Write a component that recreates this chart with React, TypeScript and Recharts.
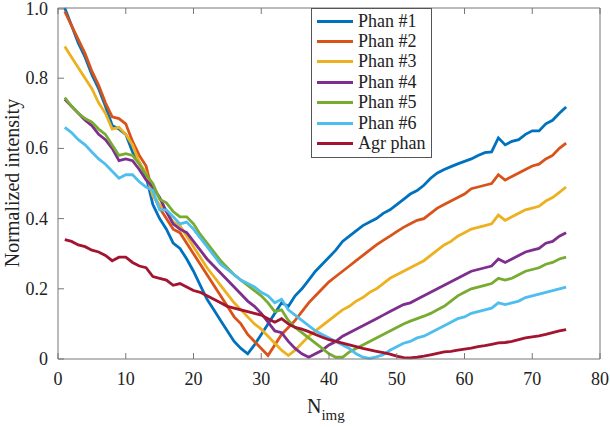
import { LineChart, Line, XAxis, YAxis, Legend } from 'recharts'

const nImg = [
  1, 2, 3, 4, 5, 6, 7, 8, 9, 10, 11, 12, 13, 14, 15, 16, 17, 18, 19, 20,
  21, 22, 23, 24, 25, 26, 27, 28, 29, 30, 31, 32, 33, 34, 35, 36, 37, 38, 39, 40,
  41, 42, 43, 44, 45, 46, 47, 48, 49, 50, 51, 52, 53, 54, 55, 56, 57, 58, 59, 60,
  61, 62, 63, 64, 65, 66, 67, 68, 69, 70, 71, 72, 73, 74, 75,
]

const phan1 = [
  1.0, 0.95, 0.9, 0.86, 0.81, 0.77, 0.72, 0.665, 0.655, 0.64, 0.59, 0.56, 0.52, 0.44, 0.4, 0.37, 0.33, 0.315, 0.285, 0.25,
  0.21, 0.17, 0.14, 0.11, 0.08, 0.05, 0.03, 0.015, 0.04, 0.07, 0.1, 0.13, 0.16, 0.15, 0.18, 0.2, 0.225, 0.25, 0.27, 0.29,
  0.31, 0.335, 0.35, 0.365, 0.38, 0.39, 0.4, 0.415, 0.425, 0.44, 0.455, 0.47, 0.48, 0.495, 0.515, 0.53, 0.54, 0.548, 0.556, 0.563,
  0.57, 0.58, 0.588, 0.59, 0.63, 0.61, 0.62, 0.625, 0.64, 0.65, 0.65, 0.67, 0.68, 0.7, 0.718,
]

const phan2 = [
  0.99, 0.95, 0.91, 0.87, 0.82, 0.78, 0.73, 0.69, 0.685, 0.67, 0.62, 0.58, 0.55, 0.47, 0.43, 0.4, 0.37, 0.36, 0.33, 0.3,
  0.27, 0.24, 0.21, 0.18, 0.15, 0.12, 0.1, 0.07, 0.05, 0.03, 0.01, 0.04, 0.07, 0.09, 0.11, 0.135, 0.16, 0.18, 0.2, 0.22,
  0.235, 0.25, 0.265, 0.28, 0.295, 0.31, 0.325, 0.338, 0.35, 0.363, 0.375, 0.385, 0.395, 0.4, 0.415, 0.43, 0.44, 0.45, 0.46, 0.47,
  0.485, 0.49, 0.495, 0.5, 0.525, 0.51, 0.52, 0.53, 0.54, 0.55, 0.555, 0.57, 0.58, 0.6, 0.615,
]

const phan3 = [
  0.89, 0.86, 0.83, 0.8, 0.77, 0.73, 0.7, 0.655, 0.66, 0.64, 0.61, 0.56, 0.53, 0.465, 0.44, 0.42, 0.39, 0.38, 0.35, 0.32,
  0.29, 0.26, 0.235, 0.21, 0.185, 0.16, 0.14, 0.12, 0.1, 0.085, 0.065, 0.045, 0.025, 0.01, 0.025, 0.045, 0.065, 0.08, 0.095, 0.11,
  0.125, 0.14, 0.15, 0.165, 0.175, 0.19, 0.2, 0.215, 0.23, 0.24, 0.25, 0.26, 0.27, 0.28, 0.295, 0.31, 0.325, 0.335, 0.35, 0.36,
  0.37, 0.375, 0.38, 0.385, 0.41, 0.395, 0.405, 0.415, 0.425, 0.43, 0.435, 0.45, 0.46, 0.475, 0.49,
]

const phan4 = [
  0.74, 0.72, 0.7, 0.68, 0.665, 0.64, 0.625, 0.6, 0.565, 0.57, 0.565, 0.54, 0.51, 0.49, 0.46, 0.42, 0.385, 0.37, 0.36, 0.335,
  0.31, 0.285, 0.265, 0.245, 0.225, 0.205, 0.185, 0.165, 0.15, 0.13, 0.105, 0.08, 0.075, 0.05, 0.03, 0.015, 0.005, 0.015, 0.025, 0.04,
  0.05, 0.065, 0.075, 0.085, 0.095, 0.105, 0.115, 0.125, 0.135, 0.145, 0.155, 0.16, 0.17, 0.18, 0.19, 0.2, 0.21, 0.22, 0.23, 0.24,
  0.25, 0.255, 0.26, 0.265, 0.285, 0.275, 0.285, 0.295, 0.305, 0.31, 0.315, 0.33, 0.335, 0.35, 0.36,
]

const phan5 = [
  0.745, 0.72, 0.7, 0.685, 0.675, 0.655, 0.64, 0.61, 0.58, 0.585, 0.58, 0.555, 0.525, 0.5, 0.455, 0.445, 0.42, 0.405, 0.405, 0.385,
  0.355, 0.33, 0.305, 0.28, 0.26, 0.24, 0.225, 0.21, 0.195, 0.18, 0.16, 0.135, 0.14, 0.11, 0.09, 0.075, 0.06, 0.045, 0.03, 0.015,
  0.005, 0.005, 0.02, 0.03, 0.04, 0.05, 0.06, 0.07, 0.08, 0.09, 0.1, 0.108, 0.115, 0.122, 0.13, 0.14, 0.15, 0.165, 0.18, 0.19,
  0.2, 0.205, 0.21, 0.215, 0.23, 0.225, 0.23, 0.24, 0.25, 0.255, 0.26, 0.27, 0.275, 0.285, 0.29,
]

const phan6 = [
  0.66, 0.645, 0.625, 0.61, 0.59, 0.57, 0.555, 0.535, 0.515, 0.525, 0.525, 0.505, 0.49, 0.48, 0.425, 0.425, 0.405, 0.385, 0.39, 0.37,
  0.345, 0.32, 0.295, 0.27, 0.255, 0.24, 0.225, 0.215, 0.205, 0.19, 0.18, 0.16, 0.17, 0.14, 0.125, 0.11, 0.095, 0.08, 0.07, 0.06,
  0.05, 0.04, 0.03, 0.015, 0.005, 0.002, 0.006, 0.012, 0.025, 0.035, 0.045, 0.05, 0.06, 0.065, 0.075, 0.085, 0.095, 0.105, 0.115, 0.12,
  0.13, 0.135, 0.14, 0.145, 0.16, 0.155, 0.16, 0.165, 0.175, 0.18, 0.185, 0.19, 0.195, 0.2, 0.205,
]

const agrPhan = [
  0.34, 0.335, 0.325, 0.32, 0.31, 0.305, 0.295, 0.28, 0.29, 0.29, 0.275, 0.265, 0.26, 0.235, 0.23, 0.225, 0.21, 0.215, 0.205, 0.195,
  0.19, 0.18, 0.17, 0.16, 0.15, 0.145, 0.14, 0.135, 0.13, 0.125, 0.115, 0.105, 0.115, 0.1, 0.09, 0.085, 0.078, 0.07, 0.062, 0.055,
  0.05, 0.045, 0.04, 0.035, 0.03, 0.026, 0.022, 0.018, 0.014, 0.008, 0.004, 0.003, 0.005, 0.008, 0.012, 0.016, 0.02, 0.022, 0.025, 0.028,
  0.031, 0.035, 0.038, 0.042, 0.046, 0.047, 0.05, 0.055, 0.06, 0.063, 0.066, 0.07, 0.075, 0.08, 0.084,
]

const xTicks = [0, 10, 20, 30, 40, 50, 60, 70, 80]
const yTicks = [0, 0.2, 0.4, 0.6, 0.8, 1.0]

const series = [
  { key: 'p1', name: 'Phan #1', values: phan1, color: '#0072BD' },
  { key: 'p2', name: 'Phan #2', values: phan2, color: '#D95319' },
  { key: 'p3', name: 'Phan #3', values: phan3, color: '#EDB120' },
  { key: 'p4', name: 'Phan #4', values: phan4, color: '#7E2F8E' },
  { key: 'p5', name: 'Phan #5', values: phan5, color: '#77AC30' },
  { key: 'p6', name: 'Phan #6', values: phan6, color: '#4DBEEE' },
  { key: 'agr', name: 'Agr phan', values: agrPhan, color: '#A2142F' },
]

const chartData = nImg.map((n, i) => {
  const row: Record<string, number> = { n }
  series.forEach((s) => { row[s.key] = s.values[i] })
  return row
})

const FONT = 'Liberation Serif, DejaVu Serif, serif'
const AXIS = '#777'
const TICK = 6

const BottomTick = ({ x, y, payload }: any) => (
  <g>
    <line x1={x} y1={y} x2={x} y2={y - TICK} stroke={AXIS} />
    <text x={x} y={y + 26} textAnchor="middle" fontSize={18} fill="#222" style={{ fontFamily: FONT }}>
      {payload.value}
    </text>
  </g>
)

const LeftTick = ({ x, y, payload }: any) => (
  <g>
    <line x1={x} y1={y} x2={x + TICK} y2={y} stroke={AXIS} />
    <text x={x - 10} y={y + 6} textAnchor="end" fontSize={18} fill="#222" style={{ fontFamily: FONT }}>
      {payload.value === 0 ? '0' : payload.value.toFixed(1)}
    </text>
  </g>
)

const TopTick = ({ x, y }: any) => <line x1={x} y1={y} x2={x} y2={y + TICK} stroke={AXIS} />
const RightTick = ({ x, y }: any) => <line x1={x} y1={y} x2={x - TICK} y2={y} stroke={AXIS} />

const LegendBox = () => (
  <div
    style={{
      border: '1px solid #555',
      background: '#fff',
      padding: '2px 6px 3px 5px',
      fontFamily: FONT,
      fontSize: 18,
      color: '#222',
    }}
  >
    {series.map((s) => (
      <div key={s.key} style={{ display: 'flex', alignItems: 'center', height: 20.4 }}>
        <span style={{ display: 'inline-block', width: 36, height: 3, background: s.color, marginRight: 5 }} />
        <span>{s.name}</span>
      </div>
    ))}
  </div>
)

const XLabel = () => (
  <text x={307} y={413} fill="#222" style={{ fontFamily: FONT }}>
    <tspan fontSize={20}>N</tspan>
    <tspan fontSize={15} dy={7}>img</tspan>
  </text>
)

const YLabel = () => (
  <text
    transform="translate(19,183) rotate(-90)"
    textAnchor="middle"
    fontSize={20}
    fill="#222"
    style={{ fontFamily: FONT }}
  >
    Normalized intensity
  </text>
)

export default function App() {
  return (
    <div style={{ position: 'absolute', left: 0, top: 0 }}>
      <LineChart width={610} height={427} data={chartData} margin={{ top: 0, right: 0, left: 0, bottom: 0 }}>
        <XAxis
          xAxisId="b"
          dataKey="n"
          type="number"
          domain={[0, 80]}
          ticks={xTicks}
          height={68}
          tickSize={0}
          tickMargin={0}
          tickLine={false}
          stroke={AXIS}
          tick={<BottomTick />}
          label={<XLabel />}
        />
        <XAxis
          xAxisId="t"
          orientation="top"
          dataKey="n"
          type="number"
          domain={[0, 80]}
          ticks={xTicks}
          height={8}
          tickSize={0}
          tickMargin={0}
          tickLine={false}
          stroke={AXIS}
          tick={<TopTick />}
        />
        <YAxis
          yAxisId="l"
          type="number"
          domain={[0, 1]}
          ticks={yTicks}
          width={58}
          tickSize={0}
          tickMargin={0}
          tickLine={false}
          stroke={AXIS}
          tick={<LeftTick />}
          label={<YLabel />}
        />
        <YAxis
          yAxisId="r"
          orientation="right"
          type="number"
          domain={[0, 1]}
          ticks={yTicks}
          width={10}
          tickSize={0}
          tickMargin={0}
          tickLine={false}
          stroke={AXIS}
          tick={<RightTick />}
        />
        <Legend
          layout="vertical"
          align="center"
          verticalAlign="middle"
          content={<LegendBox />}
          wrapperStyle={{ left: 311, top: 8, width: 'auto' }}
        />
        {series.map((s) => (
          <Line
            key={s.key}
            xAxisId="b"
            yAxisId="l"
            dataKey={s.key}
            name={s.name}
            type="linear"
            stroke={s.color}
            strokeWidth={2.8}
            dot={false}
            isAnimationActive={false}
          />
        ))}
      </LineChart>
    </div>
  )
}
